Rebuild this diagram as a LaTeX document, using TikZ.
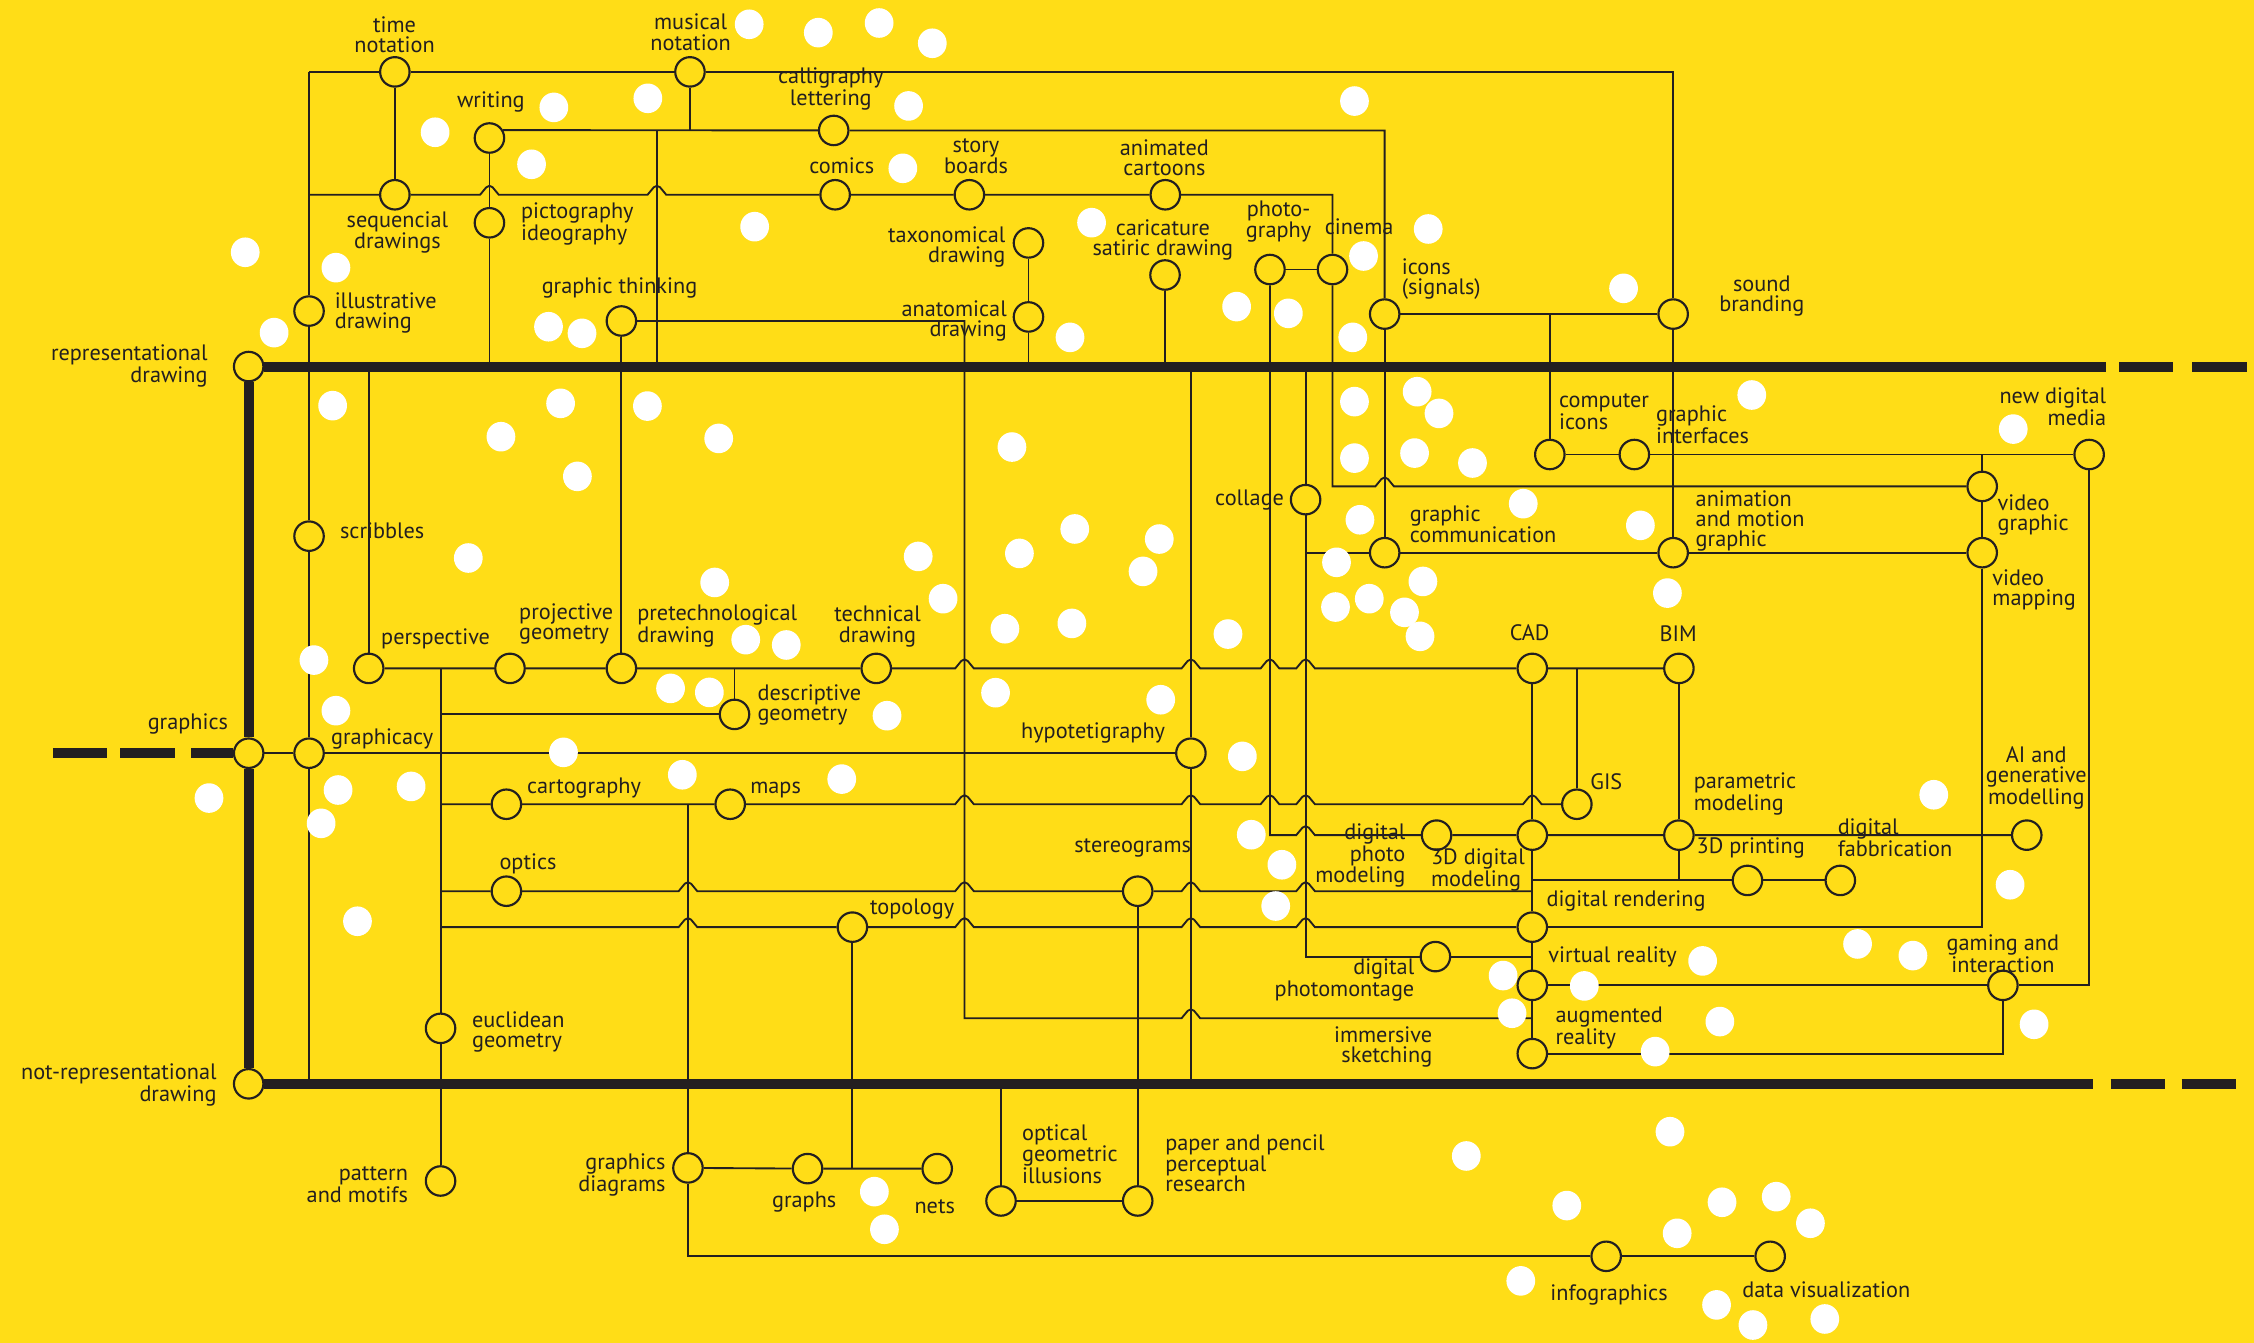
\documentclass[tikz,border=0pt]{standalone}
\usepackage{fontspec}
\setmainfont{PT Sans}
\definecolor{bg}{HTML}{FFDD17}
\definecolor{ink}{HTML}{231F20}
\newcommand\lbfont{\fontsize{15.5}{14}\selectfont}
\newcommand\hop[2]{-- (#1-6.5,#2) -- (#1-2.2,#2-5.2) .. controls (#1-1,#2-6.6) and (#1+1,#2-6.6) .. (#1+2.2,#2-5.2) -- (#1+6.5,#2)}
\begin{document}
\begin{tikzpicture}[x=1pt,y=-1pt,
  cn/.style={circle,draw=ink,line width=1.5pt,minimum size=20.5pt,inner sep=0pt,fill=bg},
  ln/.style={draw=ink,line width=1.3pt},
  thk/.style={draw=ink,line width=7pt},
  wd/.style={fill=white},
  tx/.style={font=\lbfont,text=ink,inner sep=0pt},
  tl/.style={tx,anchor=west,align=left},
  tr/.style={tx,anchor=east,align=right},
  tc/.style={tx,anchor=center,align=center}]
\fill[bg] (0,0) rectangle (1568.1,934.3);
\useasboundingbox (0,0) rectangle (1568.1,934.3);

% ---- circle nodes
\node[cn] (timen) at (274.7,50) {};
\node[cn] (music) at (480,50) {};
\node[cn] (writing) at (340.5,96) {};
\node[cn] (calli) at (580,90.75) {};
\node[cn] (seqd) at (274.7,135.5) {};
\node[cn] (picto) at (340.5,155) {};
\node[cn] (comics) at (581,135.5) {};
\node[cn] (story) at (674.4,135.5) {};
\node[cn] (anim) at (810.7,135.5) {};
\node[cn] (taxo) at (715.5,169) {};
\node[cn] (anat) at (715.5,220.5) {};
\node[cn] (caric) at (810.5,191.3) {};
\node[cn] (photo) at (883.5,187.5) {};
\node[cn] (cinema) at (927,187.5) {};
\node[cn] (icons) at (963.3,218.5) {};
\node[cn] (sound) at (1164,218.5) {};
\node[cn] (gthink) at (432.3,223.3) {};
\node[cn] (illus) at (215,216.4) {};
\node[cn] (cicons) at (1078.2,316.2) {};
\node[cn] (ginter) at (1137,316.2) {};
\node[cn] (ndm) at (1453.4,316.2) {};
\node[cn] (vgraph) at (1379,338.4) {};
\node[cn] (collage) at (908.3,347.6) {};
\node[cn] (gcomm) at (963.3,384.5) {};
\node[cn] (animmo) at (1164,384.5) {};
\node[cn] (vmap) at (1379,384.5) {};
\node[cn] (scrib) at (215,373) {};
\node[cn] (persp) at (256.5,465) {};
\node[cn] (proj) at (354.8,465) {};
\node[cn] (pretech) at (432.3,465) {};
\node[cn] (tech) at (609.6,465) {};
\node[cn] (desc) at (511,497) {};
\node[cn] (cad) at (1066,465) {};
\node[cn] (bim) at (1168,465) {};
\node[cn] (gcy) at (215,524) {};
\node[cn] (hypo) at (828.5,524) {};
\node[cn] (carto) at (352.3,559.5) {};
\node[cn] (maps) at (508,559.5) {};
\node[cn] (gis) at (1097,559.5) {};
\node[cn] (dphoto) at (999.4,581) {};
\node[cn] (d3d) at (1066,581) {};
\node[cn] (param) at (1168,581) {};
\node[cn] (ai) at (1410,581) {};
\node[cn] (print3d) at (1215.7,612.5) {};
\node[cn] (fab) at (1280.3,612.5) {};
\node[cn] (optics) at (352.3,620) {};
\node[cn] (stereo) at (791.5,620) {};
\node[cn] (topo) at (593,645) {};
\node[cn] (drender) at (1066,645) {};
\node[cn] (dmont) at (998.6,665.5) {};
\node[cn] (vr) at (1066,685.5) {};
\node[cn] (gaming) at (1393.4,685.5) {};
\node[cn] (ar) at (1066,733) {};
\node[cn] (euclid) at (306.5,715.4) {};
\node[cn] (pattern) at (306.5,821.6) {};
\node[cn] (gdiag) at (478.6,812.5) {};
\node[cn] (graphs) at (561.8,813) {};
\node[cn] (nets) at (652,813) {};
\node[cn] (optill) at (696.4,835.5) {};
\node[cn] (paper) at (791.5,835.5) {};
\node[cn] (infog) at (1117.4,874) {};
\node[cn] (dataviz) at (1231.5,874) {};
\node[cn] (rep) at (173,255) {};
\node[cn] (graphics) at (173,524) {};
\node[cn] (notrep) at (173,754) {};

% ---- junction coordinates
\coordinate (jTL) at (215,50); \coordinate (jTR) at (1164,50); \coordinate (jLB) at (215,754);
\coordinate (jSeqL) at (215,135.5); \coordinate (jSeqR) at (927,135.5);
\coordinate (jMus) at (480,90.75);
\coordinate (j457T) at (457,90.75); \coordinate (j457B) at (457,255);
\coordinate (jPicB) at (340.5,255); \coordinate (jAnatB) at (715.5,255); \coordinate (jCarB) at (810.5,255);
\coordinate (jGT) at (671,223.3); \coordinate (jGB) at (671,708.4); \coordinate (jImR) at (1066,708.4);
\coordinate (jPhB) at (883.5,581); \coordinate (jCinB) at (927,338.4);
\coordinate (jColT) at (908.3,255); \coordinate (jColM) at (908.3,384.5); \coordinate (jColB) at (908.3,665.5); \coordinate (jMontR) at (1066,665.5);
\coordinate (j1078) at (1078.2,218.5); \coordinate (j1379) at (1379,316.2);
\coordinate (jPerT) at (256.5,255); \coordinate (j1097) at (1097,465);
\coordinate (j306T) at (306.5,465); \coordinate (j306D) at (306.5,497); \coordinate (j306C) at (306.5,559.5);
\coordinate (j306O) at (306.5,620); \coordinate (j306P) at (306.5,645);
\coordinate (j511) at (511,465);
\coordinate (jHypT) at (828.5,255); \coordinate (jHypB) at (828.5,754);
\coordinate (j479) at (478.6,559.5);
\coordinate (jOptR) at (1066,620); \coordinate (jPrL) at (1066,612.5); \coordinate (jParB) at (1168,612.5);
\coordinate (jTopB) at (593,813); \coordinate (jOiT) at (696.4,754);
\coordinate (jRepE) at (1465.4,255); \coordinate (jNrE) at (1456.4,754);
\coordinate (jRd1a) at (1474.2,255); \coordinate (jRd1b) at (1511.7,255);
\coordinate (jRd2a) at (1525.2,255); \coordinate (jRd2b) at (1563,255);
\coordinate (jNd1a) at (1468.4,754); \coordinate (jNd1b) at (1506,754);
\coordinate (jNd2a) at (1517.7,754); \coordinate (jNd2b) at (1555.3,754);
\coordinate (jGd1a) at (36.8,524); \coordinate (jGd1b) at (74.3,524);
\coordinate (jGd2a) at (83.8,524); \coordinate (jGd2b) at (121.8,524);
\coordinate (jGd3a) at (132.9,524);

% ---- thin connectors
\draw[ln] (jTL) -- (timen) -- (music) -- (jTR) -- (sound);
\draw[ln] (jTL) -- (illus) -- (scrib) -- (gcy) -- (jLB);
\draw[ln] (timen) -- (seqd);
\draw[ln] (jSeqL) -- (seqd) \hop{340.5}{135.5} \hop{457}{135.5} -- (comics) -- (story) -- (anim) -- (jSeqR) -- (cinema);
\draw[ln] (writing.30) -- (calli) -| (icons);
\draw[ln] (music) -- (jMus);
\draw[ln] (writing) -- (picto) -- (jPicB);
\draw[ln] (j457T) -- (j457B);
\draw[ln] (taxo) -- (anat) -- (jAnatB);
\draw[ln] (caric) -- (jCarB);
\draw[ln] (gthink) -- (jGT) -- (jGB) \hop{828.5}{708.4} -- (jImR);
\draw[ln] (gthink) -- (pretech);
\draw[ln] (photo) -- (cinema);
\draw[ln] (photo) -- (jPhB) \hop{908.3}{581} -- (dphoto) -- (d3d) -- (param) -- (ai);
\draw[ln] (cinema) -- (jCinB) \hop{963.3}{338.4} -- (vgraph);
\draw[ln] (jColT) -- (collage) -- (jColB) -- (dmont) -- (jMontR);
\draw[ln] (jColM) -- (gcomm) -- (animmo) -- (vmap);
\draw[ln] (icons) -- (gcomm);
\draw[ln] (icons) -- (sound);
\draw[ln] (j1078) -- (cicons);
\draw[ln] (cicons) -- (ginter) -- (ndm);
\draw[ln] (sound) -- (animmo);
\draw[ln] (j1379) -- (vgraph) -- (vmap) |- (drender);
\draw[ln] (ndm) |- (gaming) -- (vr);
\draw[ln] (gaming) |- (ar);
\draw[ln] (persp) -- (proj) -- (pretech) -- (tech) \hop{671}{465} \hop{828.5}{465} \hop{883.5}{465} \hop{908.3}{465} -- (cad) -- (bim);
\draw[ln] (persp) -- (jPerT);
\draw[ln] (j1097) -- (gis);
\draw[ln] (j306T) -- (euclid) -- (pattern);
\draw[ln] (j511) -- (desc);
\draw[ln] (j306D) -- (desc);
\draw[ln] (graphics) -- (gcy) -- (hypo);
\draw[ln] (jHypT) -- (hypo) -- (jHypB);
\draw[ln] (j306C) -- (carto) -- (maps) \hop{671}{559.5} \hop{828.5}{559.5} \hop{883.5}{559.5} \hop{908.3}{559.5} \hop{1066}{559.5} -- (gis);
\draw[ln] (j479) -- (gdiag) |- (infog) -- (dataviz);
\draw[ln] (j306O) -- (optics) \hop{478.6}{620} \hop{671}{620} -- (stereo) \hop{828.5}{620} \hop{908.3}{620} -- (jOptR);
\draw[ln] (cad) -- (d3d) -- (drender) -- (vr) -- (ar);
\draw[ln] (jPrL) -- (print3d) -- (fab);
\draw[ln] (bim) -- (param) -- (jParB);
\draw[ln] (j306P) \hop{478.6}{645} -- (topo) \hop{671}{645} \hop{828.5}{645} \hop{908.3}{645} -- (drender);
\draw[ln] (topo) -- (jTopB);
\draw[ln] (gdiag) -- (graphs) -- (nets);
\draw[ln] (jOiT) -- (optill) -- (paper);
\draw[ln] (stereo) -- (paper);

% ---- thick axes
\draw[thk] (rep) -- (graphics) -- (notrep);
\draw[thk] (rep) -- (jRepE);
\draw[thk] (jRd1a) -- (jRd1b); \draw[thk] (jRd2a) -- (jRd2b);
\draw[thk] (notrep) -- (jNrE);
\draw[thk] (jNd1a) -- (jNd1b); \draw[thk] (jNd2a) -- (jNd2b);
\draw[thk] (jGd1a) -- (jGd1b); \draw[thk] (jGd2a) -- (jGd2b); \draw[thk] (jGd3a) -- (graphics);

% ---- white dots
\foreach \p in {(385.3,74.7),(302.7,92),(369.8,114.3),(170.6,175.5),(233.7,186.2),(190.7,231.4),(381.6,227.3),(231.4,282.2),(348.5,303.8),(390,280.6),
(521.2,16.9),(569.3,22.7),(611.6,16),(648.6,30.1),(450.7,68.4),(632.1,73.7),(628.1,117.1),(525,157.7),(759.4,154.9),(404.9,231.9),(744.4,234.7),(450.4,282.5),(500,305),(704,311),
(942.3,70.3),(993.6,159.3),(948.6,178.1),(860.3,213.3),(896.3,218),(941.1,234.7),(1129.5,200.6),(942.3,279.4),(985.9,272.5),(1001.1,287.6),
(1218.7,274.8),(1400.6,298.5),
(325.8,388.2),(218.4,459.2),(233.7,494.4),(286,547.1),(235.2,549.6),(223.4,572.8),(145.4,555.2),(392,523.4),
(401.7,331.4),(638.8,387.1),(747.7,368),(709.2,385),(656.1,416.5),(745.7,433.7),(699.1,437.4),(497.2,405.2),(518.8,445),(547,448.7),(466.5,478.9),(493.5,481.7),(617.1,497.9),(692.6,481.9),(474.7,539),(585.6,542),
(942.3,318.7),(984.1,315.2),(1024.4,322.1),(1059.7,350.4),(946.1,361.6),(1141.2,365.5),(806.5,375),(795.2,397.5),(929.8,391.2),(989.9,404.5),(929.1,422.3),(952.6,416.5),(977.1,426),(987.9,442.7),(1160,412.6),(854.3,441.1),(807.5,486.8),(864.3,526.2),(870.5,580.7),(891.8,601.6),(887.5,630.3),
(1345.3,552.9),(1398.4,615.5),(248.7,640.9),
(608.3,829),(615.3,855.2),
(1045.7,678.7),(1102.2,685.9),(1051.9,704.9),(1151.5,731.6),(1184.5,668.5),(1020.1,804.2),(1161.8,787.3),(1090,838.7),(1166.8,858),(1058,891.1),
(1292.3,656.7),(1330.8,664.8),(1196.5,710.7),(1415.1,712.6),(1198,836.4),(1235.7,832.5),(1259.5,851),(1194.2,907.8),(1219.5,921.8),(1269.5,917.6)}
  {\fill[wd] \p ellipse [x radius=10, y radius=10.3];}

% ---- labels
\node[tc] (t-timen) at (274.5,24) {time\\notation};
\node[tc] (t-music) at (480.5,22.4) {musical\\notation};
\node[tc] (t-writing) at (341.5,70.7) {writing};
\node[tc] (t-calli) at (578,61.8) {calligraphy\\lettering};
\node[tc] (t-seqd) at (276.5,161.8) {sequencial\\drawings};
\node[tl] (t-picto) at (362.3,156) {pictography\\ideography};
\node[tc] (t-comics) at (585.6,115.3) {comics};
\node[tc] (t-story) at (679,108.7) {story\\boards};
\node[tc] (t-anim) at (810,110) {animated\\cartoons};
\node[tc] (t-caric) at (809,166.8) {caricature\\satiric drawing};
\node[tc] (t-photo) at (889.5,154.1) {photo-\\graphy};
\node[tc] (t-cinema) at (945.5,157.7) {cinema};
\node[tr] (t-taxo) at (699.6,171.6) {taxonomical\\drawing};
\node[tr] (t-anat) at (700.6,223.4) {anatomical\\drawing};
\node[tc] (t-gthink) at (431,200) {graphic thinking};
\node[tl] (t-icons) at (975,194.4) {icons\\(signals)};
\node[tc] (t-sound) at (1225.7,206) {sound\\branding};
\node[tl] (t-illus) at (232.7,218) {illustrative\\drawing};
\node[tr] (t-rep) at (144.6,254.7) {representational\\drawing};
\node[tl] (t-cicons) at (1084.5,286.4) {computer\\icons};
\node[tl] (t-ginter) at (1152,295.7) {graphic\\interfaces};
\node[tr] (t-ndm) at (1465.4,282.7) {new digital\\media};
\node[tr] (t-collage) at (893.5,347.6) {collage};
\node[tl] (t-gcomm) at (980.6,364.7) {graphic\\communication};
\node[tl] (t-animmo) at (1179.5,362.5) {animation\\and motion\\graphic};
\node[tl] (t-vgraph) at (1389.6,358.3) {video\\graphic};
\node[tl] (t-vmap) at (1385.9,410.3) {video\\mapping};
\node[tl] (t-scrib) at (236.4,369.2) {scribbles};
\node[tl] (t-persp) at (265,444.3) {perspective};
\node[tl] (t-proj) at (361,433.8) {projective\\geometry};
\node[tl] (t-pretech) at (443.2,435.8) {pretechnological\\drawing};
\node[tc] (t-tech) at (610.5,435.8) {technical\\drawing};
\node[tl] (t-desc) at (526.8,490.3) {descriptive\\geometry};
\node[tc] (t-cad) at (1064.2,440.5) {CAD};
\node[tc] (t-bim) at (1167.5,441) {BIM};
\node[tc] (t-graphics) at (130.7,503.7) {graphics};
\node[tl] (t-gcy) at (230.2,514) {graphicacy};
\node[tl] (t-hypo) at (710.2,510) {hypotetigraphy};
\node[tl] (t-carto) at (366.5,548.5) {cartography};
\node[tl] (t-maps) at (521.8,549.9) {maps};
\node[tl] (t-gis) at (1106.2,543.6) {GIS};
\node[tl] (t-param) at (1178.2,552.5) {parametric\\modeling};
\node[tc] (t-ai) at (1416.6,541.3) {AI and\\generative\\modelling};
\node[tr] (t-dphoto) at (977.9,595.3) {digital\\photo\\modeling};
\node[tl] (t-d3d) at (995.4,605) {3D digital\\modeling};
\node[tl] (t-print) at (1180.2,590) {3D printing};
\node[tl] (t-fab) at (1278.3,583) {digital\\fabbrication};
\node[tl] (t-optics) at (347.3,601) {optics};
\node[tl] (t-stereo) at (747.2,590) {stereograms};
\node[tl] (t-topo) at (605.1,632.3) {topology};
\node[tl] (t-drender) at (1075.7,626.8) {digital rendering};
\node[tr] (t-dmont) at (984.1,682) {digital\\photomontage};
\node[tl] (t-vr) at (1077,666) {virtual reality};
\node[tc] (t-gaming) at (1393.4,663.2) {gaming and\\interaction};
\node[tr] (t-immers) at (996.6,728.4) {immersive\\sketching};
\node[tl] (t-ar) at (1082,715) {augmented\\reality};
\node[tl] (t-euclid) at (328.2,717.7) {euclidean\\geometry};
\node[tr] (t-notrep) at (150.9,754.8) {not-representational\\drawing};
\node[tr] (t-pattern) at (284,824.4) {pattern\\and motifs};
\node[tr] (t-gdiag) at (463.2,817.4) {graphics\\diagrams};
\node[tc] (t-graphs) at (559.5,836) {graphs};
\node[tc] (t-nets) at (650.3,839.4) {nets};
\node[tl] (t-optill) at (710.9,803) {optical\\geometric\\illusions};
\node[tl] (t-paper) at (810.5,809.3) {paper and pencil\\perceptual\\research};
\node[tc] (t-infog) at (1119.4,900.9) {infographics};
\node[tl] (t-dataviz) at (1212,897.4) {data visualization};
\end{tikzpicture}
\end{document}
